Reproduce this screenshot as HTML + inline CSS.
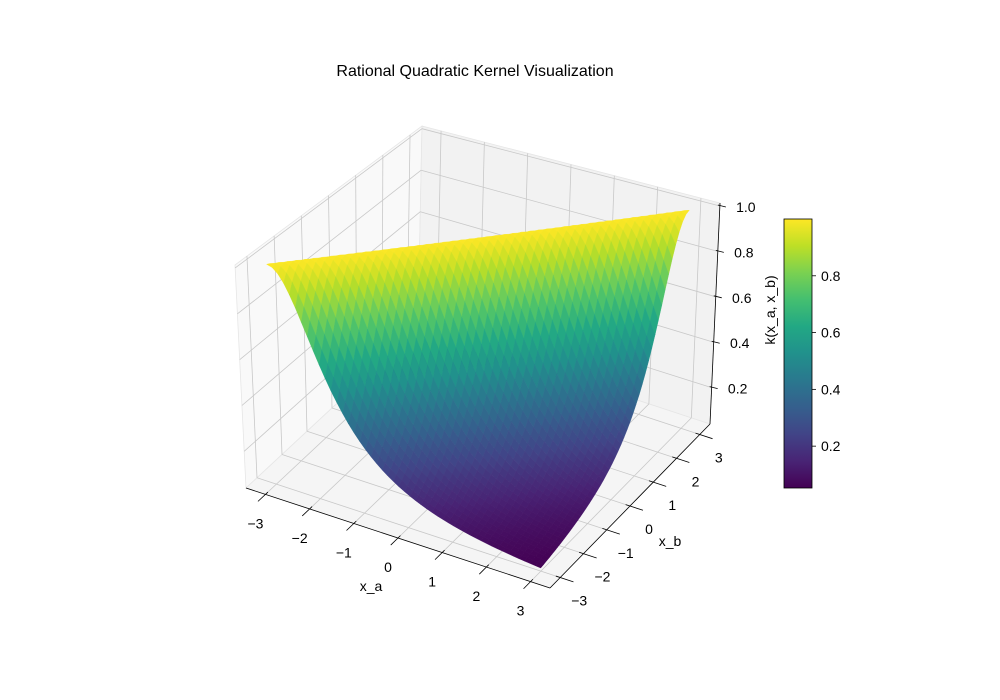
<!DOCTYPE html>
<html><head><meta charset="utf-8"><style>
html,body{margin:0;padding:0;background:#fff;}
svg{display:block;font-family:"Liberation Sans","DejaVu Sans",sans-serif;}
</style></head><body>
<svg id="chart" width="1000" height="700" viewBox="0 0 1000 700" xmlns="http://www.w3.org/2000/svg">
<rect width="1000" height="700" fill="#fff"/>
<text x="475" y="76" text-anchor="middle" font-size="16" fill="#000">Rational Quadratic Kernel Visualization</text>
<g id="panes"></g>
<g id="grid"></g>
<g id="surface"></g>
<g id="axes"></g>
<g id="cbar"></g>
</svg>
<script>
// ---- data ----
const xaGrid = [-3,-2.878,-2.755,-2.633,-2.51,-2.388,-2.265,-2.143,-2.02,-1.898,-1.776,-1.653,-1.531,-1.408,-1.286,-1.163,-1.041,-0.918,-0.796,-0.673,-0.551,-0.429,-0.306,-0.184,-0.061,0.061,0.184,0.306,0.429,0.551,0.673,0.796,0.918,1.041,1.163,1.286,1.408,1.531,1.653,1.776,1.898,2.02,2.143,2.265,2.388,2.51,2.633,2.755,2.878,3];
const xbGrid = xaGrid.slice();
const alphaParam = [1.0];
const lengthScale = [1.0];
const xaTicks = [-3,-2,-1,0,1,2,3];
const xbTicks = [-3,-2,-1,0,1,2,3];
const zTicks = [0.2,0.4,0.6,0.8,1.0];
const zTickLabels = ["0.2","0.4","0.6","0.8","1.0"];
const cbarTicks = [0.2,0.4,0.6,0.8];
const cbarTickLabels = ["0.2","0.4","0.6","0.8"];

const NS = "http://www.w3.org/2000/svg";
const L = 3.44, ZLO = 0.04, ZHI = 1.013;
const C = {
 "000":[246,488],"100":[550,588],"110":[710,424],"010":[418,328],
 "001":[235,265],"101":[540,346],"111":[720,203],"011":[422,126]
};
function lerp(a,b,t){return [a[0]+(b[0]-a[0])*t,a[1]+(b[1]-a[1])*t];}
function proj(xa,xb,z){
  const u=(xa+L)/(2*L), v=(xb+L)/(2*L), w=(z-ZLO)/(ZHI-ZLO);
  const b0=lerp(lerp(C["000"],C["100"],u),lerp(C["010"],C["110"],u),v);
  const b1=lerp(lerp(C["001"],C["101"],u),lerp(C["011"],C["111"],u),v);
  return lerp(b0,b1,w);
}
const vir=["#440154","#482475","#414487","#355f8d","#2a788e","#21918c","#22a884","#44bf70","#7ad151","#bddf26","#fde725"];
function hex(h){return [parseInt(h.substr(1,2),16),parseInt(h.substr(3,2),16),parseInt(h.substr(5,2),16)];}
function viridis(t){
  t=Math.max(0,Math.min(1,t));const s=t*10,i=Math.min(9,Math.floor(s)),f=s-i;
  const a=hex(vir[i]),b=hex(vir[i+1]);
  return "rgb("+a.map((x,k)=>Math.round(x+(b[k]-x)*f)).join(",")+")";
}
function kernel(a,b){const d=a-b;return Math.pow(1+d*d/(2*alphaParam[0]*lengthScale[0]*lengthScale[0]),-alphaParam[0]);}
function pts(arr){return arr.map(p=>p[0].toFixed(1)+","+p[1].toFixed(1)).join(" ");}
function line(g,p,q,stroke,w,name){
  const l=document.createElementNS(NS,"line");
  l.setAttribute("x1",p[0]);l.setAttribute("y1",p[1]);l.setAttribute("x2",q[0]);l.setAttribute("y2",q[1]);
  l.setAttribute("stroke",stroke);l.setAttribute("stroke-width",w);
  
  
  g.appendChild(l);
}
function text(g,x,y,s,anchor,size,name,rot){
  const t=document.createElementNS(NS,"text");
  t.setAttribute("x",x);t.setAttribute("y",y);t.setAttribute("text-anchor",anchor);
  t.setAttribute("font-size",size);t.setAttribute("fill","#000");
  if(rot)t.setAttribute("transform","rotate("+rot+" "+x+" "+y+")");
  t.textContent=s;
  
  
  g.appendChild(t);
}
const panes=document.getElementById("panes");
function pane(p,fill,name){
  const e=document.createElementNS(NS,"polygon");
  e.setAttribute("points",pts(p));e.setAttribute("fill",fill);
  e.setAttribute("stroke","#e6e6e6");e.setAttribute("stroke-width","0.8");
  
  
  panes.appendChild(e);
}
pane([C["000"],C["010"],C["011"],C["001"]],"#f9f9f9","left-pane");
pane([C["010"],C["110"],C["111"],C["011"]],"#f2f2f2","back-pane");
pane([C["000"],C["100"],C["110"],C["010"]],"#f5f5f5","floor-pane");
const grid=document.getElementById("grid");
const gc="#c8c8c8";
xaTicks.forEach(v=>{
  line(grid,proj(v,-L,ZLO),proj(v,L,ZLO),gc,0.8,"floor-grid-xa");
  line(grid,proj(v,L,ZLO),proj(v,L,ZHI),gc,0.8,"back-grid-xa");
});
xbTicks.forEach(v=>{
  line(grid,proj(-L,v,ZLO),proj(L,v,ZLO),gc,0.8,"floor-grid-xb");
  line(grid,proj(-L,v,ZLO),proj(-L,v,ZHI),gc,0.8,"left-grid-xb");
});
zTicks.forEach(v=>{
  line(grid,proj(-L,-L,v),proj(-L,L,v),gc,0.8,"left-grid-z");
  line(grid,proj(-L,L,v),proj(L,L,v),gc,0.8,"back-grid-z");
});
const surf=document.getElementById("surface");
let zmin=Infinity,zmax=-Infinity;
const Z=xaGrid.map(a=>xbGrid.map(b=>{const k=kernel(a,b);zmin=Math.min(zmin,k);zmax=Math.max(zmax,k);return k;}));
function area(p){let s=0;for(let k=0;k<p.length;k++){const a=p[k],b=p[(k+1)%p.length];s+=a[0]*b[1]-b[0]*a[1];}return s;}
const refSign=Math.sign(area([proj(2,-3,0.5),proj(3,-3,0.5),proj(3,-2,0.5),proj(2,-2,0.5)]));
const quads=[];
for(let i=0;i<xaGrid.length-1;i++)for(let j=0;j<xbGrid.length-1;j++){
  const a0=xaGrid[i],a1=xaGrid[i+1],b0=xbGrid[j],b1=xbGrid[j+1];
  const zs=[Z[i][j],Z[i+1][j],Z[i+1][j+1],Z[i][j+1]];
  const zm=(zs[0]+zs[1]+zs[2]+zs[3])/4;
  const depth=0.5*(a0+a1)/2-0.866*(b0+b1)/2;
  const p=[proj(a0,b0,zs[0]),proj(a1,b0,zs[1]),proj(a1,b1,zs[2]),proj(a0,b1,zs[3])];
  if(Math.sign(area(p))!==refSign)continue;
  quads.push({depth,zm,p});
}
quads.sort((a,b)=>a.depth-b.depth);
quads.forEach(q=>{
  const e=document.createElementNS(NS,"polygon");
  const col=viridis((q.zm-zmin)/(zmax-zmin));
  e.setAttribute("points",pts(q.p));e.setAttribute("fill",col);
  e.setAttribute("stroke",col);e.setAttribute("stroke-width","0.4");
  
  
  surf.appendChild(e);
});
const ax=document.getElementById("axes");
line(ax,C["000"],C["100"],"#000",0.8,"xa-axis-line");
line(ax,C["100"],C["110"],"#000",0.8,"xb-axis-line");
line(ax,C["110"],C["111"],"#000",0.8,"z-axis-line");
xaTicks.forEach(v=>{
  line(ax,proj(v,-L+0.1,ZLO),proj(v,-L-0.3,ZLO),"#000",0.8,"xa-tick");
  const p=proj(v,-L,ZLO);
  text(ax,p[0]-10,p[1]+34,v<0?"\u2212"+(-v):String(v),"middle",14,"xa-tick-label");
});
xbTicks.forEach(v=>{
  line(ax,proj(L-0.1,v,ZLO),proj(L+0.3,v,ZLO),"#000",0.8,"xb-tick");
  const p=proj(L,v,ZLO);
  text(ax,p[0]+19,p[1]+28,v<0?"\u2212"+(-v):String(v),"middle",14,"xb-tick-label");
});
zTicks.forEach((v,i)=>{
  const p=proj(L,L,v);
  line(ax,[p[0]-2,p[1]-1],[p[0]+6,p[1]+1],"#000",0.8,"z-tick");
  text(ax,p[0]+26,p[1]+6,zTickLabels[i],"middle",14,"z-tick-label");
});
text(ax,371,591,"x_a","middle",14,"xa-axis-title");
text(ax,670,546,"x_b","middle",14,"xb-axis-title");
const cb=document.getElementById("cbar");
const defs=document.createElementNS(NS,"defs");
const lg=document.createElementNS(NS,"linearGradient");
lg.setAttribute("id","vg");lg.setAttribute("x1","0");lg.setAttribute("y1","1");lg.setAttribute("x2","0");lg.setAttribute("y2","0");
vir.forEach((c,i)=>{const s=document.createElementNS(NS,"stop");s.setAttribute("offset",i/10);s.setAttribute("stop-color",c);lg.appendChild(s);});
defs.appendChild(lg);cb.appendChild(defs);
const CBX=784,CBY=219,CBW=28,CBH=269;
const r=document.createElementNS(NS,"rect");
r.setAttribute("x",CBX);r.setAttribute("y",CBY);r.setAttribute("width",CBW);r.setAttribute("height",CBH);
r.setAttribute("fill","url(#vg)");r.setAttribute("stroke","#000");r.setAttribute("stroke-width","0.8");


cb.appendChild(r);
function cbY(v){return CBY+CBH-(v-zmin)/(zmax-zmin)*CBH;}
cbarTicks.forEach((v,i)=>{
  const y=cbY(v);
  line(cb,[CBX+CBW,y],[CBX+CBW+4,y],"#000",0.8,"colorbar-tick");
  text(cb,CBX+CBW+9,y+5,cbarTickLabels[i],"start",14,"colorbar-tick-label");
});
text(cb,775,310,"k(x_a, x_b)","middle",14,"colorbar-label",-90);
</script>
</body></html>
